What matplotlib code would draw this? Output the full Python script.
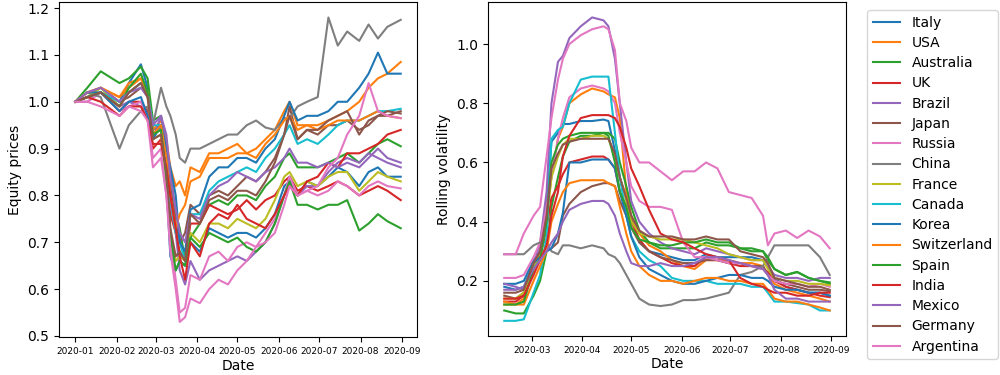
import matplotlib
matplotlib.use('Agg')
import matplotlib.pyplot as plt
import matplotlib.dates as mdates
import numpy as np
import pandas as pd

countries = ['Italy', 'USA', 'Australia', 'UK', 'Brazil', 'Japan', 'Russia', 'China',
             'France', 'Canada', 'Korea', 'Switzerland', 'Spain', 'India', 'Mexico',
             'Germany', 'Argentina']

# Equity prices (normalised to 1 on 2020-01-01)
price_dates = ['2020-01-01', '2020-01-10', '2020-01-20', '2020-02-03', '2020-02-10',
               '2020-02-19', '2020-02-24', '2020-02-28', '2020-03-05', '2020-03-09',
               '2020-03-12', '2020-03-16', '2020-03-19', '2020-03-23', '2020-03-27',
               '2020-04-03', '2020-04-10', '2020-04-17', '2020-04-24', '2020-05-01',
               '2020-05-08', '2020-05-15', '2020-05-22', '2020-05-29', '2020-06-05',
               '2020-06-09', '2020-06-15', '2020-06-22', '2020-06-30', '2020-07-08',
               '2020-07-15', '2020-07-22', '2020-07-31', '2020-08-07', '2020-08-14',
               '2020-08-21', '2020-08-31']

p_italy = [1.00, 1.01, 1.03, 1.00, 1.04, 1.08, 1.03, 0.94, 0.95, 0.83, 0.67, 0.64, 0.66, 0.65, 0.70,
           0.68, 0.73, 0.72, 0.71, 0.72, 0.72, 0.71, 0.73, 0.76, 0.82, 0.83, 0.80, 0.83, 0.82, 0.84,
           0.86, 0.85, 0.82, 0.85, 0.86, 0.84, 0.84]
p_usa = [1.00, 1.02, 1.03, 1.01, 1.04, 1.05, 1.02, 0.94, 0.96, 0.92, 0.86, 0.82, 0.83, 0.80, 0.86,
         0.85, 0.89, 0.89, 0.90, 0.91, 0.89, 0.90, 0.92, 0.94, 0.98, 1.00, 0.95, 0.95, 0.95, 0.96,
         0.97, 0.98, 1.00, 1.03, 1.05, 1.06, 1.085]
p_australia = [1.00, 1.03, 1.065, 1.04, 1.05, 1.075, 1.05, 0.96, 0.97, 0.90, 0.85, 0.76, 0.73, 0.66,
               0.71, 0.74, 0.78, 0.79, 0.78, 0.80, 0.80, 0.79, 0.82, 0.84, 0.88, 0.89, 0.86, 0.86,
               0.86, 0.87, 0.88, 0.89, 0.87, 0.89, 0.91, 0.92, 0.905]
p_uk = [1.00, 1.01, 1.02, 0.98, 1.00, 1.00, 0.98, 0.90, 0.92, 0.85, 0.76, 0.72, 0.68, 0.66, 0.74,
        0.74, 0.78, 0.77, 0.76, 0.77, 0.79, 0.77, 0.79, 0.80, 0.83, 0.84, 0.81, 0.82, 0.81, 0.82,
        0.83, 0.82, 0.80, 0.81, 0.82, 0.81, 0.79]
p_brazil = [1.00, 1.00, 1.02, 0.99, 1.00, 0.99, 0.97, 0.92, 0.97, 0.90, 0.78, 0.72, 0.64, 0.61, 0.66,
            0.62, 0.64, 0.65, 0.66, 0.67, 0.66, 0.68, 0.70, 0.74, 0.80, 0.84, 0.80, 0.82, 0.82, 0.85,
            0.87, 0.88, 0.87, 0.89, 0.88, 0.87, 0.86]
p_japan = [1.00, 1.01, 1.02, 1.00, 1.01, 1.03, 1.02, 0.93, 0.95, 0.88, 0.82, 0.74, 0.70, 0.72, 0.78,
           0.76, 0.80, 0.81, 0.80, 0.82, 0.84, 0.83, 0.85, 0.88, 0.93, 0.99, 0.92, 0.94, 0.93, 0.95,
           0.95, 0.96, 0.94, 0.95, 0.97, 0.97, 0.98]
p_russia = [1.00, 1.00, 1.02, 0.98, 0.99, 1.00, 0.97, 0.88, 0.90, 0.80, 0.71, 0.62, 0.55, 0.56, 0.63,
            0.62, 0.67, 0.68, 0.66, 0.69, 0.70, 0.69, 0.72, 0.75, 0.80, 0.84, 0.80, 0.81, 0.80, 0.81,
            0.83, 0.82, 0.80, 0.82, 0.83, 0.82, 0.815]
p_china = [1.00, 1.02, 1.01, 0.90, 0.95, 0.98, 0.99, 0.95, 1.03, 0.99, 0.97, 0.93, 0.88, 0.87, 0.90,
           0.90, 0.91, 0.92, 0.93, 0.93, 0.95, 0.96, 0.945, 0.94, 0.965, 0.965, 0.99, 1.00, 1.01,
           1.18, 1.12, 1.15, 1.13, 1.165, 1.135, 1.16, 1.175]
p_france = [1.00, 1.01, 1.03, 0.99, 1.02, 1.04, 1.01, 0.92, 0.93, 0.84, 0.72, 0.66, 0.67, 0.66, 0.72,
            0.70, 0.74, 0.74, 0.73, 0.75, 0.74, 0.73, 0.75, 0.79, 0.84, 0.85, 0.82, 0.83, 0.82, 0.84,
            0.85, 0.85, 0.81, 0.83, 0.85, 0.84, 0.83]
p_canada = [1.00, 1.01, 1.02, 1.00, 1.02, 1.04, 1.02, 0.95, 0.95, 0.88, 0.79, 0.72, 0.70, 0.66, 0.76,
            0.76, 0.81, 0.83, 0.84, 0.85, 0.86, 0.85, 0.88, 0.90, 0.93, 0.95, 0.91, 0.92, 0.91, 0.93,
            0.95, 0.96, 0.96, 0.97, 0.98, 0.98, 0.985]
p_korea = [1.00, 1.02, 1.02, 0.98, 1.00, 1.01, 0.97, 0.92, 0.95, 0.90, 0.86, 0.80, 0.70, 0.68, 0.77,
           0.78, 0.84, 0.86, 0.86, 0.88, 0.88, 0.87, 0.90, 0.92, 0.97, 1.00, 0.96, 0.97, 0.97, 0.98,
           1.00, 1.00, 1.03, 1.06, 1.105, 1.06, 1.06]
p_switzerland = [1.00, 1.02, 1.03, 1.01, 1.03, 1.05, 1.02, 0.93, 0.95, 0.88, 0.80, 0.73, 0.76, 0.78,
                 0.83, 0.84, 0.88, 0.88, 0.88, 0.89, 0.89, 0.88, 0.91, 0.93, 0.96, 0.97, 0.94, 0.95,
                 0.94, 0.95, 0.96, 0.96, 0.96, 0.97, 0.98, 0.97, 0.965]
p_spain = [1.00, 1.01, 1.02, 0.99, 1.03, 1.06, 1.02, 0.93, 0.94, 0.84, 0.72, 0.64, 0.66, 0.65, 0.71,
           0.69, 0.72, 0.71, 0.70, 0.71, 0.69, 0.68, 0.70, 0.74, 0.80, 0.83, 0.78, 0.78, 0.77, 0.78,
           0.78, 0.79, 0.725, 0.74, 0.76, 0.745, 0.73]
p_india = [1.00, 1.01, 1.00, 0.97, 0.99, 0.99, 0.96, 0.91, 0.91, 0.86, 0.80, 0.73, 0.67, 0.62, 0.70,
           0.67, 0.74, 0.76, 0.75, 0.78, 0.75, 0.74, 0.73, 0.76, 0.80, 0.82, 0.80, 0.83, 0.84, 0.87,
           0.86, 0.89, 0.89, 0.90, 0.91, 0.93, 0.94]
p_mexico = [1.00, 1.02, 1.03, 1.00, 1.02, 1.03, 1.01, 0.95, 0.97, 0.93, 0.84, 0.77, 0.72, 0.70, 0.76,
            0.75, 0.80, 0.82, 0.83, 0.85, 0.84, 0.83, 0.85, 0.86, 0.88, 0.90, 0.87, 0.87, 0.86, 0.87,
            0.86, 0.87, 0.86, 0.88, 0.90, 0.88, 0.87]
p_germany = [1.00, 1.01, 1.02, 0.99, 1.02, 1.04, 1.01, 0.92, 0.93, 0.85, 0.73, 0.67, 0.68, 0.66, 0.76,
             0.74, 0.79, 0.80, 0.79, 0.81, 0.81, 0.80, 0.83, 0.87, 0.93, 0.97, 0.92, 0.94, 0.94, 0.96,
             0.97, 0.98, 0.93, 0.96, 0.97, 0.98, 0.975]
p_argentina = [1.00, 1.00, 0.99, 0.97, 0.99, 0.98, 0.96, 0.86, 0.88, 0.80, 0.68, 0.60, 0.53, 0.54,
               0.58, 0.57, 0.60, 0.62, 0.61, 0.64, 0.66, 0.69, 0.70, 0.72, 0.78, 0.82, 0.80, 0.81,
               0.82, 0.86, 0.88, 0.93, 0.97, 1.04, 0.98, 0.97, 0.965]

# Rolling volatility
vol_dates = ['2020-02-13', '2020-02-20', '2020-02-25', '2020-03-02', '2020-03-06', '2020-03-10',
             '2020-03-13', '2020-03-17', '2020-03-20', '2020-03-24', '2020-03-31', '2020-04-07',
             '2020-04-14', '2020-04-17', '2020-04-21', '2020-04-24', '2020-04-28', '2020-05-01',
             '2020-05-06', '2020-05-12', '2020-05-19', '2020-05-26', '2020-06-02', '2020-06-09',
             '2020-06-16', '2020-06-23', '2020-06-30', '2020-07-07', '2020-07-14', '2020-07-21',
             '2020-07-24', '2020-07-28', '2020-08-04', '2020-08-11', '2020-08-18', '2020-08-25',
             '2020-08-31']

v_italy = [0.19, 0.19, 0.20, 0.27, 0.30, 0.45, 0.67, 0.70, 0.73, 0.73, 0.74, 0.74, 0.745, 0.74, 0.64,
           0.55, 0.48, 0.42, 0.33, 0.30, 0.29, 0.28, 0.27, 0.27, 0.29, 0.28, 0.28, 0.28, 0.28, 0.27,
           0.25, 0.21, 0.18, 0.17, 0.16, 0.16, 0.15]
v_usa = [0.12, 0.12, 0.14, 0.24, 0.30, 0.42, 0.55, 0.68, 0.72, 0.80, 0.83, 0.85, 0.84, 0.83, 0.82,
         0.75, 0.50, 0.42, 0.36, 0.32, 0.30, 0.27, 0.25, 0.24, 0.27, 0.27, 0.27, 0.26, 0.26, 0.25,
         0.22, 0.19, 0.17, 0.16, 0.15, 0.14, 0.13]
v_australia = [0.10, 0.09, 0.09, 0.15, 0.20, 0.30, 0.45, 0.55, 0.62, 0.67, 0.69, 0.69, 0.70, 0.70,
               0.68, 0.60, 0.52, 0.45, 0.37, 0.33, 0.31, 0.31, 0.31, 0.31, 0.33, 0.32, 0.32, 0.31,
               0.30, 0.30, 0.27, 0.24, 0.22, 0.23, 0.21, 0.20, 0.19]
v_uk = [0.13, 0.13, 0.15, 0.24, 0.28, 0.38, 0.48, 0.52, 0.56, 0.60, 0.61, 0.62, 0.62, 0.61, 0.58,
        0.50, 0.45, 0.40, 0.34, 0.30, 0.28, 0.26, 0.25, 0.25, 0.28, 0.27, 0.26, 0.25, 0.25, 0.24,
        0.23, 0.20, 0.18, 0.17, 0.16, 0.15, 0.145]
v_brazil = [0.19, 0.18, 0.17, 0.25, 0.33, 0.50, 0.80, 0.94, 0.96, 1.02, 1.06, 1.09, 1.08, 1.06, 0.95,
            0.80, 0.60, 0.47, 0.40, 0.36, 0.33, 0.31, 0.30, 0.29, 0.31, 0.30, 0.29, 0.28, 0.27, 0.27,
            0.25, 0.22, 0.21, 0.21, 0.20, 0.21, 0.21]
v_japan = [0.15, 0.14, 0.16, 0.24, 0.27, 0.30, 0.31, 0.33, 0.42, 0.46, 0.50, 0.52, 0.53, 0.53, 0.52,
           0.47, 0.42, 0.38, 0.33, 0.30, 0.28, 0.27, 0.26, 0.26, 0.27, 0.27, 0.26, 0.26, 0.25, 0.25,
           0.22, 0.20, 0.19, 0.18, 0.17, 0.17, 0.165]
v_russia = [0.21, 0.21, 0.22, 0.28, 0.33, 0.45, 0.55, 0.68, 0.75, 0.82, 0.85, 0.86, 0.85, 0.84, 0.80,
            0.70, 0.60, 0.52, 0.47, 0.45, 0.45, 0.44, 0.33, 0.28, 0.28, 0.27, 0.26, 0.26, 0.25, 0.24,
            0.22, 0.20, 0.19, 0.19, 0.18, 0.19, 0.18]
v_china = [0.29, 0.29, 0.29, 0.32, 0.33, 0.33, 0.30, 0.29, 0.32, 0.32, 0.31, 0.32, 0.31, 0.29, 0.28,
           0.26, 0.22, 0.19, 0.14, 0.12, 0.115, 0.12, 0.135, 0.135, 0.14, 0.15, 0.16, 0.22, 0.23,
           0.25, 0.28, 0.32, 0.32, 0.32, 0.32, 0.28, 0.22]
v_france = [0.14, 0.14, 0.16, 0.25, 0.28, 0.40, 0.55, 0.62, 0.66, 0.68, 0.68, 0.69, 0.69, 0.68, 0.62,
            0.55, 0.47, 0.40, 0.36, 0.35, 0.34, 0.34, 0.34, 0.33, 0.32, 0.31, 0.29, 0.28, 0.27, 0.27,
            0.24, 0.21, 0.20, 0.20, 0.19, 0.19, 0.185]
v_canada = [0.065, 0.065, 0.07, 0.16, 0.22, 0.35, 0.68, 0.71, 0.72, 0.80, 0.88, 0.89, 0.89, 0.89,
            0.70, 0.55, 0.42, 0.35, 0.30, 0.27, 0.25, 0.21, 0.20, 0.20, 0.20, 0.19, 0.19, 0.19, 0.18,
            0.18, 0.16, 0.13, 0.13, 0.125, 0.12, 0.10, 0.10]
v_korea = [0.18, 0.17, 0.18, 0.26, 0.28, 0.30, 0.31, 0.36, 0.43, 0.60, 0.60, 0.61, 0.61, 0.61, 0.58,
           0.50, 0.42, 0.35, 0.28, 0.24, 0.22, 0.20, 0.19, 0.19, 0.20, 0.21, 0.22, 0.22, 0.21, 0.21,
           0.20, 0.18, 0.17, 0.17, 0.16, 0.16, 0.15]
v_switzerland = [0.13, 0.12, 0.12, 0.20, 0.25, 0.30, 0.40, 0.46, 0.50, 0.53, 0.54, 0.54, 0.54, 0.53,
                 0.52, 0.45, 0.36, 0.30, 0.25, 0.22, 0.20, 0.20, 0.19, 0.20, 0.21, 0.21, 0.20, 0.20,
                 0.19, 0.19, 0.17, 0.14, 0.13, 0.13, 0.12, 0.11, 0.10]
v_spain = [0.12, 0.12, 0.13, 0.24, 0.27, 0.40, 0.60, 0.66, 0.68, 0.69, 0.70, 0.70, 0.70, 0.69, 0.60,
           0.50, 0.45, 0.38, 0.34, 0.33, 0.32, 0.32, 0.33, 0.33, 0.34, 0.33, 0.33, 0.31, 0.31, 0.30,
           0.28, 0.24, 0.22, 0.23, 0.21, 0.20, 0.195]
v_india = [0.14, 0.14, 0.15, 0.22, 0.27, 0.32, 0.42, 0.50, 0.62, 0.69, 0.75, 0.76, 0.76, 0.76, 0.75,
           0.72, 0.65, 0.58, 0.52, 0.44, 0.36, 0.34, 0.33, 0.31, 0.29, 0.28, 0.27, 0.21, 0.19, 0.18,
           0.17, 0.16, 0.16, 0.15, 0.15, 0.16, 0.16]
v_mexico = [0.17, 0.17, 0.18, 0.24, 0.27, 0.30, 0.33, 0.36, 0.40, 0.44, 0.46, 0.47, 0.47, 0.46, 0.42,
            0.36, 0.30, 0.26, 0.25, 0.25, 0.26, 0.25, 0.25, 0.26, 0.28, 0.28, 0.27, 0.26, 0.25, 0.24,
            0.22, 0.17, 0.14, 0.14, 0.13, 0.13, 0.13]
v_germany = [0.16, 0.16, 0.17, 0.26, 0.30, 0.42, 0.58, 0.63, 0.66, 0.67, 0.68, 0.68, 0.68, 0.68, 0.63,
             0.55, 0.48, 0.42, 0.37, 0.35, 0.35, 0.35, 0.34, 0.34, 0.35, 0.34, 0.34, 0.30, 0.29, 0.28,
             0.26, 0.21, 0.20, 0.19, 0.18, 0.18, 0.17]
v_argentina = [0.29, 0.29, 0.36, 0.42, 0.45, 0.62, 0.75, 0.88, 0.95, 1.00, 1.03, 1.05, 1.06, 1.05,
               0.98, 0.80, 0.74, 0.65, 0.60, 0.60, 0.57, 0.54, 0.57, 0.57, 0.60, 0.58, 0.50, 0.49,
               0.48, 0.42, 0.32, 0.36, 0.37, 0.345, 0.37, 0.35, 0.31]

prices = [p_italy, p_usa, p_australia, p_uk, p_brazil, p_japan, p_russia, p_china, p_france,
          p_canada, p_korea, p_switzerland, p_spain, p_india, p_mexico, p_germany, p_argentina]
vols = [v_italy, v_usa, v_australia, v_uk, v_brazil, v_japan, v_russia, v_china, v_france,
        v_canada, v_korea, v_switzerland, v_spain, v_india, v_mexico, v_germany, v_argentina]

px = pd.to_datetime(price_dates)
vx = pd.to_datetime(vol_dates)

fig = plt.figure(figsize=(10, 3.75), dpi=100)
ax1 = fig.add_axes([0.059, 0.101, 0.358, 0.893])
ax2 = fig.add_axes([0.488, 0.104, 0.358, 0.890])

for name, series in zip(countries, prices):
    ax1.plot(px, series, label=name)
for name, series in zip(countries, vols):
    ax2.plot(vx, series, label=name)

for ax in (ax1, ax2):
    ax.xaxis.set_major_locator(mdates.MonthLocator())
    ax.xaxis.set_major_formatter(mdates.DateFormatter('%Y-%m'))
    ax.tick_params(axis='x', labelsize=6.5)
    ax.tick_params(axis='y', labelsize=10)
    ax.set_xlabel('Date', fontsize=10, labelpad=2)

ax1.set_ylabel('Equity prices', fontsize=10)
ax2.set_ylabel('Rolling volatility', fontsize=10)
ax1.set_yticks([0.5, 0.6, 0.7, 0.8, 0.9, 1.0, 1.1, 1.2])
ax2.set_yticks([0.2, 0.4, 0.6, 0.8, 1.0])

# legend outside, to the right of the second panel
handles, labels = ax2.get_legend_handles_labels()
fig.legend(handles, labels, loc='upper left', bbox_to_anchor=(0.867, 0.973),
           fontsize=10, labelspacing=0.45, borderaxespad=0)

fig.savefig('out.png', dpi=100)
